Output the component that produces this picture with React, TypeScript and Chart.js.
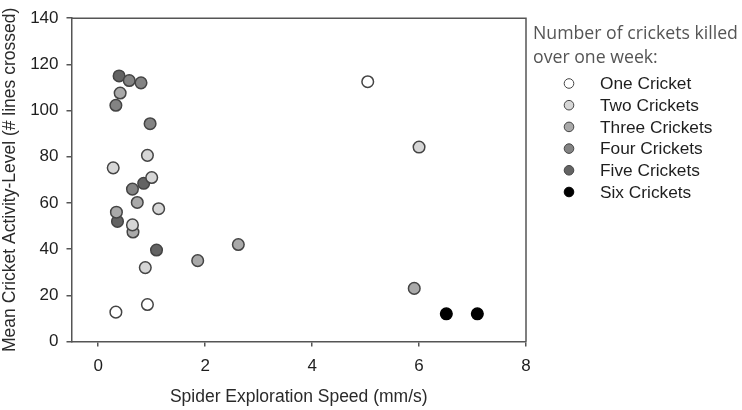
import React, { useEffect, useRef } from "react";
import { Chart, registerables } from "chart.js";

Chart.register(...registerables);

const seriesLabels = ["One Cricket", "Two Crickets", "Three Crickets", "Four Crickets", "Five Crickets", "Six Crickets"];
const seriesColors = ["#ffffff", "#d6d6d6", "#a9a9a9", "#838383", "#636363", "#000000"];

const oneX = [5.04, 0.33, 0.92];
const oneY = [112.5, 12.7, 16.0];
const twoX = [6.0, 0.92, 0.28, 1.0, 1.13, 0.64, 0.88];
const twoY = [84.2, 80.6, 75.2, 71.0, 57.5, 50.5, 32.0];
const threeX = [0.41, 0.73, 0.34, 0.65, 1.86, 2.62, 5.91];
const threeY = [107.6, 60.2, 56.0, 47.4, 35.0, 42.0, 23.0];
const fourX = [0.58, 0.8, 0.33, 0.97, 0.64];
const fourY = [113.0, 112.0, 102.3, 94.3, 66.0];
const fiveX = [0.39, 0.85, 0.36, 1.09];
const fiveY = [115.0, 68.5, 52.0, 39.6];
const sixX = [6.51, 7.09];
const sixY = [12.0, 12.0];

const xTicks = [0, 2, 4, 6, 8];
const legendTitle = ["Number of crickets killed", "over one week:"];

const allX = [oneX, twoX, threeX, fourX, fiveX, sixX];
const allY = [oneY, twoY, threeY, fourY, fiveY, sixY];

const framePlugin = {
  id: "frame",
  afterDraw(chart: any) {
    const { ctx, chartArea } = chart;
    ctx.save();
    ctx.strokeStyle = "#555";
    ctx.lineWidth = 1.5;
    ctx.beginPath();
    ctx.moveTo(chartArea.left, chartArea.top);
    ctx.lineTo(chartArea.right, chartArea.top);
    ctx.lineTo(chartArea.right, chartArea.bottom);
    ctx.stroke();
    ctx.restore();
  },
};

const customLegend = {
  id: "customLegend",
  afterDraw(chart: any) {
    const { ctx } = chart;
    ctx.save();
    ctx.fillStyle = "#555";
    ctx.font = '17.7px "Open Sans"';
    ctx.textAlign = "left";
    ctx.textBaseline = "alphabetic";
    ctx.fillText(legendTitle[0], 533, 39);
    ctx.fillText(legendTitle[1], 533, 63);
    ctx.font = '17.3px "Liberation Sans"';
    ctx.textBaseline = "middle";
    chart.data.datasets.forEach((ds: any, i: number) => {
      const cy = 83.5 + i * 21.7;
      ctx.beginPath();
      ctx.arc(569, cy, 4.8, 0, Math.PI * 2);
      ctx.fillStyle = ds.backgroundColor;
      ctx.fill();
      ctx.lineWidth = 1;
      ctx.strokeStyle = i === 5 ? "#000" : "#444";
      ctx.stroke();
      ctx.fillStyle = "#1e1e1e";
      ctx.fillText(ds.label, 600, cy + 1);
    });
    ctx.restore();
  },
};

export default function App() {
  const ref = useRef<HTMLCanvasElement | null>(null);
  useEffect(() => {
    document.body.style.margin = "0";
    if (!ref.current) return;
    const datasets = seriesLabels.map((label, i) => ({
      label,
      data: allX[i].map((x, j) => ({ x, y: allY[i][j] })),
      backgroundColor: seriesColors[i],
      borderColor: i === 5 ? "#000000" : "#444444",
      borderWidth: 1.5,
      pointRadius: 5.8,
      pointHoverRadius: 5.8,
    }));
    const chart = new Chart(ref.current, {
      type: "scatter",
      data: { datasets },
      plugins: [framePlugin, customLegend],
      options: {
        animation: false,
        responsive: false,
        devicePixelRatio: 1,
        layout: { padding: { top: 15, right: 216, left: 0, bottom: 0 } },
        plugins: { legend: { display: false }, tooltip: { enabled: false } },
        scales: {
          x: {
            type: "linear",
            min: -0.5,
            max: 8,
            afterBuildTicks: (scale: any) => {
              scale.ticks = xTicks.map((v) => ({ value: v }));
            },
            afterFit: (scale: any) => {
              scale.height = 68.5;
            },
            grid: { drawOnChartArea: false, drawTicks: true, tickLength: 5, color: "#555", lineWidth: 1.5 },
            border: { display: true, color: "#555", width: 1.5 },
            ticks: { color: "#1e1e1e", font: { family: "Liberation Sans", size: 17 }, padding: 10 },
            title: {
              display: true,
              text: "Spider Exploration Speed (mm/s)",
              color: "#2a2a2a",
              font: { family: "Liberation Sans", size: 17.5 },
              padding: { top: 0, bottom: 2 },
            },
          },
          y: {
            type: "linear",
            min: 0,
            max: 140,
            ticks: { stepSize: 20, color: "#1e1e1e", font: { family: "Liberation Sans", size: 17 }, padding: 8 },
            afterFit: (scale: any) => {
              scale.width = 71.5;
            },
            grid: { drawOnChartArea: false, drawTicks: true, tickLength: 5, color: "#555", lineWidth: 1.5 },
            border: { display: true, color: "#555", width: 1.5 },
            title: {
              display: true,
              text: "Mean Cricket Activity-Level (# lines crossed)",
              color: "#2a2a2a",
              font: { family: "Liberation Sans", size: 17.5 },
              padding: { top: 0, bottom: 0 },
            },
          },
        },
      },
    });
    return () => chart.destroy();
  }, []);
  return (
    <div style={{ width: 742, height: 410, background: "#fff" }}>
      <canvas ref={ref} width={742} height={410} style={{ display: "block" }} />
    </div>
  );
}
